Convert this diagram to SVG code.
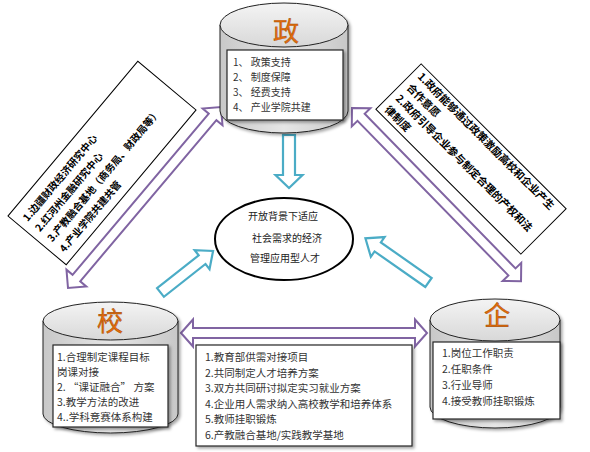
<svg xmlns="http://www.w3.org/2000/svg" width="590" height="452" viewBox="0 0 590 452">
<defs>
<linearGradient id="body" x1="0" y1="0" x2="1" y2="0">
<stop offset="0" stop-color="#c8c8c8"/>
<stop offset="0.5" stop-color="#e6e6e6"/>
<stop offset="1" stop-color="#c8c8c8"/>
</linearGradient>
<linearGradient id="top" x1="0" y1="0" x2="0" y2="1">
<stop offset="0" stop-color="#f4f4f4"/>
<stop offset="1" stop-color="#d8d8d8"/>
</linearGradient>
<filter id="sh" x="-20%" y="-20%" width="140%" height="140%">
<feDropShadow dx="2" dy="2" stdDeviation="1.5" flood-color="#000" flood-opacity="0.35"/>
</filter>
</defs>
<style>
.cyl{fill:url(#body);stroke:#222;stroke-width:1}
.cyltop{fill:url(#top);stroke:#222;stroke-width:1}
.box{fill:#fff;stroke:#262626;stroke-width:1.2}
.big{font-family:"Noto Sans CJK SC",sans-serif;font-size:26px;fill:#e46c0a;stroke:#984807;stroke-width:0.4;text-anchor:middle}
.t{font-family:"Noto Sans CJK SC",sans-serif;font-size:10.5px;fill:#333}
.rt{font-family:"Noto Sans CJK SC",sans-serif;font-size:10px;font-weight:bold;fill:#000}
.pur{fill:#fff;stroke:#8064a2;stroke-width:2;stroke-linejoin:miter}
.cy{fill:#fff;stroke:#4bacc6;stroke-width:2.2;stroke-linejoin:miter}
.rbox{fill:#fff;stroke:#000;stroke-width:1}
</style>
<rect width="590" height="452" fill="#fff"/>

<g id="note-left">
<g transform="translate(102,163) rotate(-50)">
<rect class="rbox" x="-101" y="-38" width="202" height="76"/>
<text class="rt" x="-93" y="-19">1.边疆财政经济研究中心</text>
<text class="rt" x="-93" y="-3">2.红河州金融研究中心</text>
<text class="rt" x="-93" y="13">3.产教融合基地（商务局、财政局等）</text>
<text class="rt" x="-93" y="29">4.产业学院共建共管</text>
</g>
</g>

<g id="note-right">
<g transform="translate(471,159) rotate(45)">
<rect class="rbox" x="-102.5" y="-32" width="205" height="64"/>
<text class="rt" x="-96" y="-19.5" style="font-size:10.5px">1.政府能够通过政策激励高校和企业产生</text>
<text class="rt" x="-96" y="-4" style="font-size:10.5px">合作意愿</text>
<text class="rt" x="-96" y="11.5" style="font-size:10.5px">2.政府引导企业参与制定合理的产权和法</text>
<text class="rt" x="-96" y="27" style="font-size:10.5px">律制度</text>
</g>
</g>

<g id="connectors">
<polygon class="pur" transform="translate(68,288) rotate(-49.8)" points="0,0 13,-13 13,-5 224,-5 224,-13 237,0 224,13 224,5 13,5 13,13"/>
<polygon class="pur" transform="translate(352,108) rotate(45.7)" points="0,0 13,-13 13,-5 229,-5 229,-13 242,0 229,13 229,5 13,5 13,13"/>
<polygon class="pur" transform="translate(181,333)" points="0,0 12,-13.5 12,-5 234,-5 234,-13.5 246,0 234,13.5 234,5 12,5 12,13.5"/>
<polygon class="cy" transform="translate(289,135) rotate(90)" points="0,-6 40,-6 40,-13.5 53,0 40,13.5 40,6 0,6"/>
<polygon class="cy" transform="translate(160.5,292.5) rotate(-38.3)" points="0,-5.5 53,-5.5 53,-12 67,0 53,12 53,5.5 0,5.5"/>
<polygon class="cy" transform="translate(428.5,282.5) rotate(-145)" points="0,-5.5 62,-5.5 62,-12 77,0 62,12 62,5.5 0,5.5"/>
</g>

<g id="center">
<ellipse cx="284" cy="239" rx="69" ry="41" fill="#fff" stroke="#000" stroke-width="2"/>
<text class="t" x="248" y="220" style="font-size:10px;fill:#222">开放背景下适应</text>
<text class="t" x="252" y="242" style="font-size:10px;fill:#222">社会需求的经济</text>
<text class="t" x="250" y="262" style="font-size:10px;fill:#222">管理应用型人才</text>
</g>

<g id="gov">
<g filter="url(#sh)">
<path class="cyl" d="M220,25 L220,111 A64,22 0 0 0 348,111 L348,25 Z"/>
<ellipse class="cyltop" cx="284" cy="25" rx="64" ry="22"/>
</g>
<text class="big" x="286" y="41">政</text>
<rect class="box" x="227" y="50" width="116" height="70" filter="url(#sh)"/>
<text class="t" x="233" y="66" style="font-size:10px">1、 政策支持</text>
<text class="t" x="233" y="81" style="font-size:10px">2、 制度保障</text>
<text class="t" x="233" y="96" style="font-size:10px">3、 经费支持</text>
<text class="t" x="233" y="111" style="font-size:10px">4、 产业学院共建</text>
</g>

<g id="school">
<g filter="url(#sh)">
<path class="cyl" d="M43,321 L43,414 A67.5,19 0 0 0 178,414 L178,321 Z"/>
<ellipse class="cyltop" cx="110.5" cy="321" rx="67.5" ry="19"/>
</g>
<text class="big" x="110" y="331">校</text>
<rect class="box" x="53" y="345" width="115" height="82" filter="url(#sh)"/>
<text class="t" x="57" y="361">1.合理制定课程目标</text>
<text class="t" x="57" y="376">岗课对接</text>
<text class="t" x="57" y="391">2. “课证融合” 方案</text>
<text class="t" x="57" y="406">3.教学方法的改进</text>
<text class="t" x="57" y="421">4..学科竞赛体系构建</text>
</g>

<g id="enterprise">
<g filter="url(#sh)">
<path class="cyl" d="M430,320 L430,407 A65,21 0 0 0 560,407 L560,320 Z"/>
<ellipse class="cyltop" cx="495" cy="320" rx="65" ry="21"/>
</g>
<text class="big" x="497" y="325">企</text>
<rect class="box" x="433" y="342" width="127" height="77" filter="url(#sh)"/>
<text class="t" x="442" y="357">1.岗位工作职责</text>
<text class="t" x="442" y="373">2.任职条件</text>
<text class="t" x="442" y="389">3.行业导师</text>
<text class="t" x="442" y="405">4.接受教师挂职锻炼</text>
</g>

<g id="shared">
<rect class="box" x="196" y="345" width="216" height="101" filter="url(#sh)"/>
<text class="t" x="205" y="361">1.教育部供需对接项目</text>
<text class="t" x="205" y="377">2.共同制定人才培养方案</text>
<text class="t" x="205" y="392">3.双方共同研讨拟定实习就业方案</text>
<text class="t" x="205" y="408">4.企业用人需求纳入高校教学和培养体系</text>
<text class="t" x="205" y="423">5.教师挂职锻炼</text>
<text class="t" x="205" y="439">6.产教融合基地/实践教学基地</text>
</g>
</svg>
